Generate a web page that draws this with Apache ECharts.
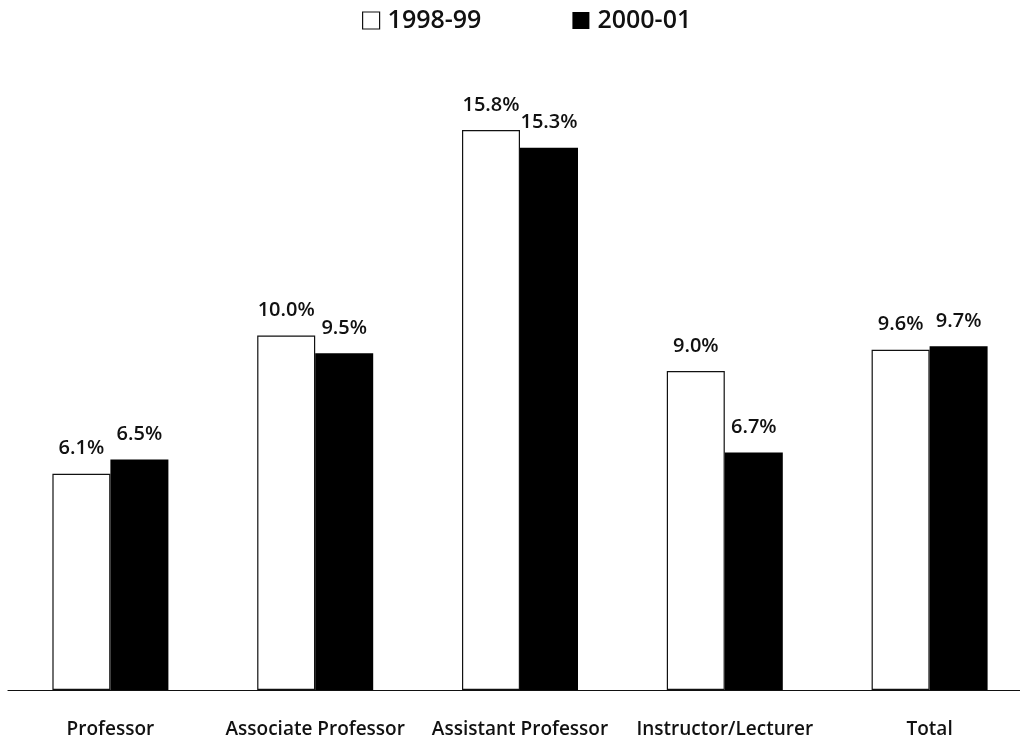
<!DOCTYPE html>
<html>
<head>
<meta charset="utf-8">
<script src="https://cdn.jsdelivr.net/npm/echarts@6/dist/echarts.min.js"></script>
<style>
  html, body { margin: 0; padding: 0; background: #fff; }
  #chart { width: 1020px; height: 740px; }
</style>
</head>
<body>
<div id="chart"></div>
<script>
// Faculty ranks and percentages for the two academic years
const categories = ['Professor', 'Associate Professor', 'Assistant Professor', 'Instructor/Lecturer', 'Total'];
const seriesNames = ['1998-99', '2000-01'];
const values1998 = [6.1, 10.0, 15.8, 9.0, 9.6];
const values2000 = [6.5, 9.5, 15.3, 6.7, 9.7];

const FONT = '"Open Sans", "Noto Sans", sans-serif';

const labelStyle = {
  show: true,
  position: 'top',
  distance: 15,
  color: '#111',
  fontFamily: FONT,
  fontWeight: 600,
  fontSize: 20,
  formatter: p => p.value.toFixed(1) + '%'
};

const chart = echarts.init(document.getElementById('chart'), null, { renderer: 'canvas' });
chart.setOption({
  animation: false,
  backgroundColor: '#fff',
  legend: {
    top: 3,
    left: 357,
    itemGap: 91,
    itemWidth: 17,
    itemHeight: 17,
    textStyle: { fontFamily: FONT, fontWeight: 600, fontSize: 25, color: '#111', padding: [0, 0, 0, 3] },
    data: [
      { name: seriesNames[0], icon: 'rect', itemStyle: { color: '#fff', borderColor: '#111', borderWidth: 1.2 } },
      { name: seriesNames[1], icon: 'rect', itemStyle: { color: '#000' } }
    ]
  },
  grid: { left: 8, width: 1024, top: 52, bottom: 50, containLabel: false, outerBoundsMode: 'none' },
  xAxis: {
    type: 'category',
    data: categories,
    axisLine: { show: true, lineStyle: { color: '#111', width: 1.2 } },
    axisTick: { show: false },
    axisLabel: {
      interval: 0,
      hideOverlap: false,
      margin: 30,
      color: '#111',
      fontFamily: FONT,
      fontWeight: 600,
      fontSize: 19
    }
  },
  yAxis: {
    type: 'value',
    min: 0,
    max: 18,
    show: false,
    splitLine: { show: false }
  },
  series: [
    {
      name: seriesNames[0],
      type: 'bar',
      data: values1998,
      barWidth: 58,
      barGap: '0%',
      itemStyle: { color: '#fff', borderColor: '#111', borderWidth: 1.2 },
      label: labelStyle
    },
    {
      name: seriesNames[1],
      type: 'bar',
      data: values2000,
      barWidth: 58,
      barGap: '0%',
      itemStyle: { color: '#000' },
      label: labelStyle
    }
  ]
});
</script>
</body>
</html>
